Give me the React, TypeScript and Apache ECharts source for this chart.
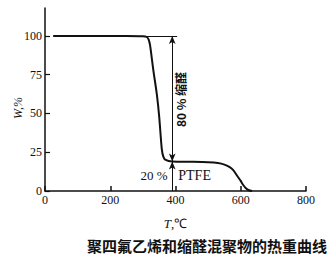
import React, { useEffect, useRef } from 'react';
import * as echarts from 'echarts';

// TGA curve: temperature (°C) vs residual weight (%)
const temps = [25, 150, 250, 300, 312, 318, 322, 332, 343, 350, 358, 363, 370, 390, 450, 500, 530, 550, 565, 577, 590, 600, 607, 615, 625, 635];
const weights = [100, 100, 100, 99.8, 99.3, 97.5, 94, 78, 62, 48, 27, 22, 20, 19, 18.8, 18.5, 18, 17, 15.5, 13.5, 9.5, 6.5, 4, 2, 0.5, 0];
const xTickValues = [0, 200, 400, 600, 800];
const yTickValues = [0, 25, 50, 75, 100];
const markT = 390;
const plateauW = 19;
const topW = 100;
const refLineStart = 300;
const refLineEnd = 405;
const labelAcetal = '80 % 缩醛';
const labelPtfePct = '20 %';
const labelPtfe = 'PTFE';
const xNameVar = 'T';
const xNameUnit = ',℃';
const yName = 'W,%';
const caption = '聚四氟乙烯和缩醛混聚物的热重曲线';

export default function App() {
  const ref = useRef<HTMLDivElement>(null);
  useEffect(() => {
    if (!ref.current) return;
    const chart = echarts.init(ref.current, null, { renderer: 'svg' });
    const serif = 'Liberation Serif';
    const cjk = 'Noto Sans CJK SC';
    const thin = { color: '#111', width: 1, type: 'solid' as const };
    chart.setOption({
      animation: false,
      backgroundColor: '#fff',
      grid: { left: 45, right: 28, top: 8, bottom: 65 },
      xAxis: {
        type: 'value',
        min: 0,
        max: 800,
        interval: 200,
        splitLine: { show: false },
        axisLine: { lineStyle: { color: '#111', width: 1.5 } },
        axisTick: { inside: true, length: 5, lineStyle: { color: '#111', width: 1.5 } },
        axisLabel: { color: '#111', fontFamily: serif, fontSize: 12, margin: 3, customValues: xTickValues },
        name: `{i|${xNameVar}}{n|${xNameUnit}}`,
        nameLocation: 'middle',
        nameGap: 26,
        nameTextStyle: {
          color: '#111',
          fontFamily: serif,
          fontSize: 13,
          rich: {
            i: { fontFamily: serif, fontSize: 13, fontStyle: 'italic', color: '#111' },
            n: { fontFamily: serif, fontSize: 13, color: '#111' },
          },
        },
      },
      yAxis: {
        type: 'value',
        min: 0,
        max: 118,
        interval: 25,
        splitLine: { show: false },
        axisLine: { show: true, lineStyle: { color: '#111', width: 1.5 } },
        axisTick: { show: true, inside: true, length: 5, customValues: yTickValues, lineStyle: { color: '#111', width: 1.2 } },
        axisLabel: { color: '#111', fontFamily: serif, fontSize: 12, margin: 3, customValues: yTickValues },
      },
      graphic: [
        {
          type: 'text',
          x: 18,
          y: 108,
          rotation: Math.PI / 2,
          style: { text: yName, fill: '#111', font: 'italic 12px "Liberation Serif"', textAlign: 'center', textVerticalAlign: 'middle' },
        },
        {
          type: 'text',
          x: 207,
          y: 245,
          style: { text: caption, fill: '#111', font: `bold 15px "${cjk}"`, textAlign: 'center', textVerticalAlign: 'middle' },
        },
      ],
      series: [
        {
          type: 'line',
          data: temps.map((t, i) => [t, weights[i]]),
          smooth: 0.3,
          symbol: 'none',
          lineStyle: { color: '#111', width: 2 },
          markLine: {
            silent: true,
            symbol: ['none', 'none'],
            label: { show: false },
            lineStyle: thin,
            data: [
              [
                { coord: [refLineStart, topW], symbol: 'none' },
                { coord: [refLineEnd, topW], symbol: 'none' },
              ],
              [
                { coord: [markT, plateauW], symbol: 'arrow', symbolSize: [5, 8] },
                { coord: [markT, topW], symbol: 'arrow', symbolSize: [5, 8] },
              ],
              [
                { coord: [markT, 0], symbol: 'none' },
                { coord: [markT, plateauW], symbol: 'arrow', symbolSize: [5, 8] },
              ],
            ],
          },
          markPoint: {
            silent: true,
            symbol: 'circle',
            symbolSize: 1,
            itemStyle: { color: 'rgba(0,0,0,0)' },
            data: [
              {
                coord: [415, 59],
                label: { show: true, formatter: labelAcetal, rotate: 90, color: '#111', fontFamily: cjk, fontWeight: 'bold', fontSize: 12, position: 'inside' },
              },
              {
                coord: [377, 10],
                label: { show: true, formatter: labelPtfePct, color: '#111', fontFamily: serif, fontSize: 13, position: 'left', distance: 0 },
              },
              {
                coord: [407, 10],
                label: { show: true, formatter: labelPtfe, color: '#111', fontFamily: serif, fontSize: 14, position: 'right', distance: 0 },
              },
            ],
          },
        },
      ],
    });
    return () => chart.dispose();
  }, []);
  return <div ref={ref} style={{ width: 334, height: 256, position: 'absolute', left: 0, top: 0 }} />;
}
